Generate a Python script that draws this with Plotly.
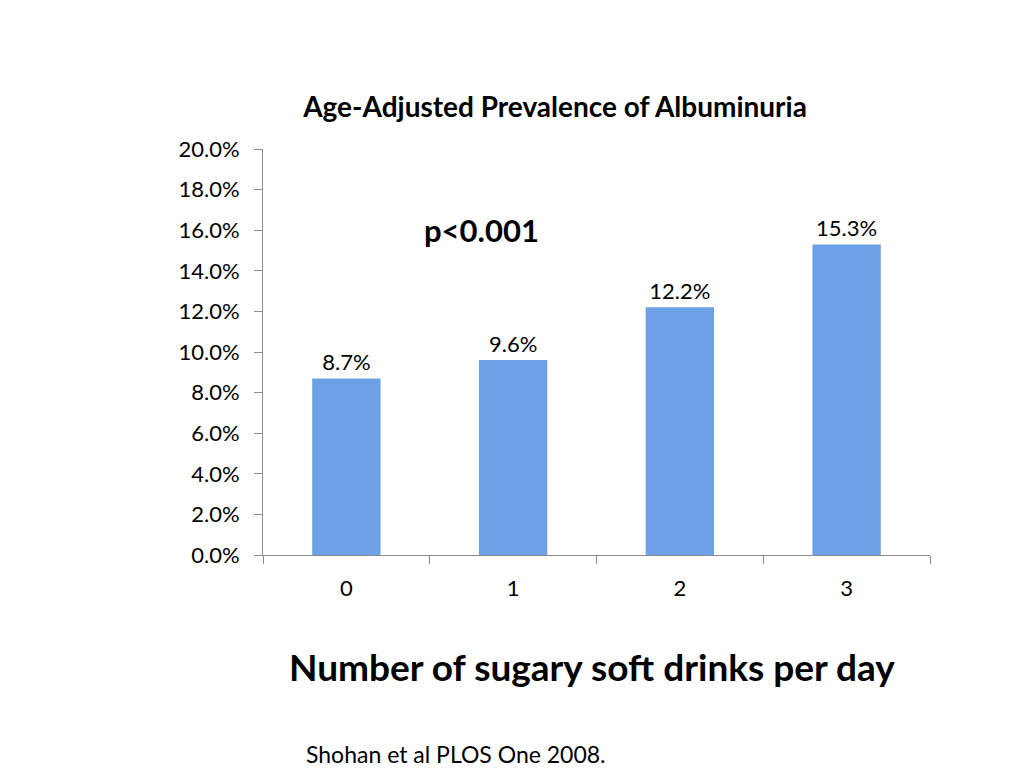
import plotly.graph_objs as go

# data
drinks = ['0', '1', '2', '3']
prevalence = [0.087, 0.096, 0.122, 0.153]

FONT = 'Lato'

fig = go.Figure()
fig.add_trace(go.Bar(
    x=drinks, y=prevalence,
    marker=dict(color='#6da1e6', line=dict(width=0)),
    texttemplate='%{y:.1%}', textposition='outside',
    textfont=dict(size=22, color='black', family=FONT),
    cliponaxis=False, showlegend=False))

# page body adds ~8px offset, so margins are shifted to compensate
fig.update_layout(
    width=1024, height=768,
    paper_bgcolor='white', plot_bgcolor='white',
    margin=dict(l=255, r=102, t=141, b=221),
    bargap=0.59,
    title=dict(text='<b>Age-Adjusted Prevalence of Albuminuria</b>',
               x=(555 - 263) / 667, xanchor='center', xref='paper',
               y=1 - 99 / 768, yanchor='middle', yref='container',
               font=dict(size=28, color='black', family=FONT)),
    font=dict(family=FONT, color='black'),
)
fig.update_xaxes(
    type='category', showline=True, linecolor='#8c8c8c', linewidth=1,
    ticks='outside', tickson='boundaries', ticklen=8, tickcolor='#8c8c8c',
    ticklabelstandoff=14,
    tickfont=dict(size=22, family=FONT), showgrid=False, zeroline=False)
fig.update_yaxes(
    range=[0, 0.2], dtick=0.02, tickformat='.1%',
    showline=True, linecolor='#8c8c8c', linewidth=1,
    ticks='outside', ticklen=8, tickcolor='#8c8c8c',
    ticklabelstandoff=10,
    tickfont=dict(size=22, family=FONT), showgrid=False, zeroline=False)

fig.add_annotation(text='<b>p<0.001</b>', xref='paper', yref='paper',
                   x=(481 - 263) / 667, y=(555 - 230) / 406,
                   xanchor='center', yanchor='middle', showarrow=False,
                   font=dict(size=31, family=FONT, color='black'))
fig.add_annotation(text='<b>Number of sugary soft drinks per day</b>',
                   xref='paper', yref='paper',
                   x=(592 - 263) / 667, y=(555 - 666) / 406,
                   xanchor='center', yanchor='middle', showarrow=False,
                   font=dict(size=37, family=FONT, color='black'))
fig.add_annotation(text='Shohan et al PLOS One 2008.',
                   xref='paper', yref='paper',
                   x=(304 - 263) / 667, y=(555 - 754) / 406,
                   xanchor='left', yanchor='middle', showarrow=False,
                   font=dict(size=23, family=FONT, color='black'))

fig.write_html("out.html")
